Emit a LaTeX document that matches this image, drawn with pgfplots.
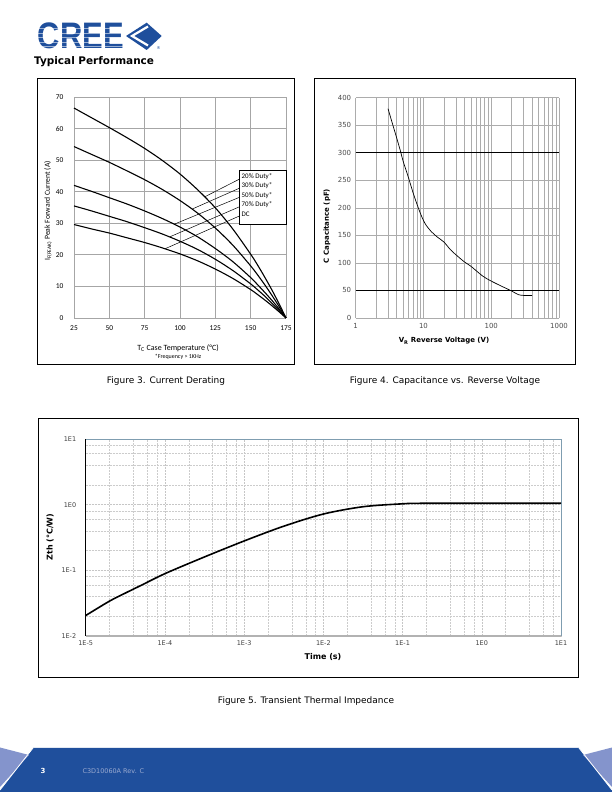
\documentclass[border=0pt]{standalone}
\usepackage{fontspec}
\setmainfont{DejaVu Sans}
\newfontfamily\calibri{Carlito}
\newfontfamily\arialb{Liberation Sans}
\usepackage{pgfplots}
\pgfplotsset{compat=1.18}
\definecolor{creeblue}{HTML}{1F4F9C}
\definecolor{creelight}{HTML}{8494CC}
\definecolor{footgray}{HTML}{9AAAD0}
\definecolor{gridg}{HTML}{A6A6A6}
\definecolor{steel}{HTML}{7F9DB0}
\begin{document}
\begin{tikzpicture}[x=1bp,y=1bp]
\useasboundingbox (0,0) rectangle (612,792);
\fill[white] (0,0) rectangle (612,792);
% ---------- logo ----------
\node[anchor=center, text=creeblue, inner sep=0, xscale=0.84, transform shape] at (81,756) {\arialb\bfseries\fontsize{37}{37}\selectfont CREE};
\foreach \yy in {745.5,750,754.5,759,763.5}{\draw[white, line width=0.9pt, opacity=0.55] (36,\yy) -- (126,\yy);}
\fill[creeblue] (126,756) -- (146.7,769.3) -- (161.7,756) -- (146.7,742) -- cycle;
\draw[white, line width=2.2pt] (148,765.5) -- (132,756) -- (148,746.5);
\node[text=creeblue, inner sep=0, font=\fontsize{4}{4}\selectfont] at (158.5,743.5) {®};
\node[anchor=west, inner sep=0, font=\fontsize{10.5}{11}\selectfont\bfseries] at (34,730) {Typical Performance};
% ---------- frames ----------
\draw[line width=0.8pt] (37,714) rectangle (294,428);
\draw[line width=0.8pt] (314,714) rectangle (575,428);
\draw[line width=0.8pt] (38,374) rectangle (578,115);
% ---------- captions ----------
\node[font=\fontsize{9}{10}\selectfont] at (166,411) {Figure 3. Current Derating};
\node[font=\fontsize{9}{10}\selectfont] at (445,411) {Figure 4. Capacitance vs. Reverse Voltage};
\node[font=\fontsize{9}{10}\selectfont] at (306,91) {Figure 5. Transient Thermal Impedance};
% ---------- footer ----------
\fill[creeblue] (0,0) -- (0,2) -- (33,44) -- (579,44) -- (612,2) -- (612,0) -- cycle;
\fill[creelight] (0,44.5) -- (29,37) -- (0,5) -- cycle;
\fill[creelight] (612,44.5) -- (583,37) -- (612,5) -- cycle;
\draw[white, line width=0.8pt] (33,44) -- (0,2);
\draw[white, line width=0.8pt] (579,44) -- (612,2);
\node[text=white, font=\fontsize{7}{8}\selectfont\bfseries] at (43,21) {3};
\node[anchor=west, text=footgray, font=\fontsize{6.5}{8}\selectfont] at (79,21) {C3D10060A Rev. C};

% ================= Figure 3 =================
\begin{axis}[at={(74bp,474bp)}, anchor=south west, scale only axis,
  width=212bp, height=221bp,
  xmin=25, xmax=175, ymin=0, ymax=70,
  xtick={25,50,75,100,125,150,175}, ytick={0,10,20,30,40,50,60,70},
  grid=major, major grid style={draw=gridg, line width=0.8pt},
  axis line style={draw=none}, major tick length=0pt,
  ticklabel style={font=\calibri\fontsize{7.5}{8}\selectfont},
  /pgf/number format/assume math mode=true,
  xticklabel style={yshift=-4.5bp}, yticklabel style={xshift=-7bp},
  clip=false]
\addplot[black, line width=1.1pt, smooth] table[row sep=\\] {
T I \\ 25 66.5 \\ 37.5 63.4 \\ 50 60.3 \\ 62.5 57.1 \\ 75 53.7 \\ 87.5 49.9 \\ 100 45.6 \\ 112.5 40.6 \\ 125 34.9 \\ 137.5 28.1 \\ 150 20.2 \\ 155 16.7 \\ 160 12.9 \\ 165 8.9 \\ 170 4.6 \\ 175 0 \\};
\addplot[black, line width=1.1pt, smooth] table[row sep=\\] {
T I \\ 25 54.3 \\ 37.5 51.8 \\ 50 49.3 \\ 62.5 46.6 \\ 75 43.8 \\ 87.5 40.7 \\ 100 37.2 \\ 112.5 33.2 \\ 125 28.5 \\ 137.5 23.0 \\ 150 16.5 \\ 155 13.6 \\ 160 10.5 \\ 165 7.2 \\ 170 3.7 \\ 175 0 \\};
\addplot[black, line width=1.1pt, smooth] table[row sep=\\] {
T I \\ 25 42.0 \\ 37.5 40.1 \\ 50 38.1 \\ 62.5 36.1 \\ 75 33.9 \\ 87.5 31.5 \\ 100 28.8 \\ 112.5 25.7 \\ 125 22.0 \\ 137.5 17.8 \\ 150 12.8 \\ 155 10.5 \\ 160 8.1 \\ 165 5.6 \\ 170 2.9 \\ 175 0 \\};
\addplot[black, line width=1.1pt, smooth] table[row sep=\\] {
T I \\ 25 35.5 \\ 37.5 33.9 \\ 50 32.2 \\ 62.5 30.5 \\ 75 28.6 \\ 87.5 26.6 \\ 100 24.3 \\ 112.5 21.7 \\ 125 18.6 \\ 137.5 15.0 \\ 150 10.8 \\ 155 8.9 \\ 160 6.9 \\ 165 4.7 \\ 170 2.4 \\ 175 0 \\};
\addplot[black, line width=1.1pt, smooth] table[row sep=\\] {
T I \\ 25 29.6 \\ 37.5 28.2 \\ 50 26.9 \\ 62.5 25.4 \\ 75 23.9 \\ 87.5 22.2 \\ 100 20.3 \\ 112.5 18.1 \\ 125 15.5 \\ 137.5 12.5 \\ 150 9.0 \\ 155 7.4 \\ 160 5.7 \\ 165 3.9 \\ 170 2.0 \\ 175 0 \\};
% leader lines
\draw[black, line width=0.5pt] (axis cs:143,44.2) -- (axis cs:117.6,38.4);
\draw[black, line width=0.5pt] (axis cs:143,41.3) -- (axis cs:108.6,34.5);
\draw[black, line width=0.5pt] (axis cs:143,38.4) -- (axis cs:95.9,29.7);
\draw[black, line width=0.5pt] (axis cs:143,35.4) -- (axis cs:92.8,25.7);
\draw[black, line width=0.5pt] (axis cs:143,32.5) -- (axis cs:89.3,21.9);
\draw[black, line width=0.8pt, fill=white] (axis cs:141.96,46.7) rectangle (axis cs:175,29.8);
\node[anchor=west, inner sep=0, font=\calibri\fontsize{7}{7}\selectfont] at (axis cs:143.5,44.8) {20\% Duty*};
\node[anchor=west, inner sep=0, font=\calibri\fontsize{7}{7}\selectfont] at (axis cs:143.5,41.85) {30\% Duty*};
\node[anchor=west, inner sep=0, font=\calibri\fontsize{7}{7}\selectfont] at (axis cs:143.5,38.9) {50\% Duty*};
\node[anchor=west, inner sep=0, font=\calibri\fontsize{7}{7}\selectfont] at (axis cs:143.5,35.95) {70\% Duty*};
\node[anchor=west, inner sep=0, font=\calibri\fontsize{7}{7}\selectfont] at (axis cs:143.5,33.0) {DC};
\end{axis}
\node[rotate=90, font=\calibri\fontsize{7.7}{8}\selectfont] at (48,581) {I\textsubscript{F(PEAK)} Peak Forward Current (A)};
\node[font=\calibri\fontsize{8}{9}\selectfont] at (178,444) {T\textsubscript{C} Case Temperature (°C)};
\node[font=\calibri\fontsize{6}{7}\selectfont] at (178,435) {*Frequency > 1KHz};

% ================= Figure 4 =================
\begin{axis}[at={(355.7bp,474bp)}, anchor=south west, scale only axis,
  width=203.3bp, height=220.3bp,
  xmode=log, xmin=1, xmax=1000, ymin=0, ymax=400,
  ytick={0,50,100,150,200,250,300,350,400},
  xtick={1,10,100,1000}, xticklabels={1,10,100,1000},
  grid=both, major grid style={draw=gray!65, line width=0.6pt},
  minor grid style={draw=gray!65, line width=0.6pt},
  axis line style={draw=none}, major tick length=0pt, minor tick length=0pt,
  ticklabel style={font=\fontsize{7}{8}\selectfont, text=black!70},
  /pgf/number format/assume math mode=true,
  xticklabel style={yshift=-2bp}, yticklabel style={xshift=-1bp},
  clip=false]
\draw[black, line width=1.1pt] (axis cs:1,300) -- (axis cs:1000,300);
\draw[black, line width=1.1pt] (axis cs:1,50) -- (axis cs:1000,50);
\addplot[black, line width=0.7pt, smooth] table[row sep=\\] {
V C \\ 3 380 \\ 3.5 352 \\ 4 328 \\ 4.6 302 \\ 5 285 \\ 6 255 \\ 7 228 \\ 8 207 \\ 9 190 \\ 10 177 \\ 11 168 \\ 13 157 \\ 16 147 \\ 20 138 \\ 25 124 \\ 30 115 \\ 40 102 \\ 50 94 \\ 75 76 \\ 100 67 \\ 135 59 \\ 200 49 \\ 250 42.5 \\ 300 41 \\ 400 41 \\};
\end{axis}
\node[rotate=90, font=\fontsize{7}{8}\selectfont\bfseries] at (327,566) {C Capacitance (pF)};
\node[font=\fontsize{7}{8}\selectfont\bfseries] at (444,451) {V\textsubscript{R} Reverse Voltage (V)};

% ================= Figure 5 =================
\begin{axis}[at={(85.7bp,156bp)}, anchor=south west, scale only axis,
  width=475.3bp, height=197bp,
  xmode=log, ymode=log, xmin=1e-5, xmax=10, ymin=0.01, ymax=10,
  xtick={1e-5,1e-4,1e-3,1e-2,1e-1,1,10},
  xticklabels={1E-5,1E-4,1E-3,1E-2,1E-1,1E0,1E1},
  minor xtick={2e-5,4e-5,6e-5,8e-5,2e-4,4e-4,6e-4,8e-4,2e-3,4e-3,6e-3,8e-3,2e-2,4e-2,6e-2,8e-2,0.2,0.4,0.6,0.8,2,4,6,8},
  ytick={0.01,0.1,1,10}, yticklabels={1E-2,1E-1,1E0,1E1},
  minor ytick={0.02,0.04,0.06,0.08,0.2,0.4,0.6,0.8,2,4,6,8},
  grid=both, major grid style={draw=gray!45, dash pattern=on 2pt off 1pt, line width=0.5pt},
  minor grid style={draw=gray!40, dash pattern=on 2pt off 1pt, line width=0.5pt},
  axis line style={draw=none}, major tick length=0pt, minor tick length=0pt,
  ticklabel style={font=\fontsize{6.5}{7}\selectfont, text=black!75},
  xticklabel style={yshift=-1bp}, yticklabel style={xshift=-6bp},
  clip=false]
\draw[steel, line width=0.6pt] (rel axis cs:0,1) -- (rel axis cs:1,1) -- (rel axis cs:1,0);
\draw[gray!60, line width=2pt] (rel axis cs:0,0) -- (rel axis cs:1,0);
\draw[black, line width=1pt] (rel axis cs:0,0) -- (rel axis cs:0,1);
\addplot[black, line width=1.6pt, smooth] table[row sep=\\] {
t Z \\ 1e-5 0.0205 \\ 2e-5 0.034 \\ 3.16e-5 0.045 \\ 5e-5 0.059 \\ 1e-4 0.089 \\ 3.16e-4 0.16 \\ 1e-3 0.28 \\ 3.16e-3 0.47 \\ 1e-2 0.72 \\ 3.16e-2 0.93 \\ 1e-1 1.03 \\ 2e-1 1.05 \\ 10 1.05 \\};
\end{axis}
\node[rotate=90, font=\fontsize{8}{9}\selectfont\bfseries] at (50,255) {Zth (°C/W)};
\node[font=\fontsize{8}{9}\selectfont\bfseries] at (323,135) {Time (s)};
\end{tikzpicture}
\end{document}
